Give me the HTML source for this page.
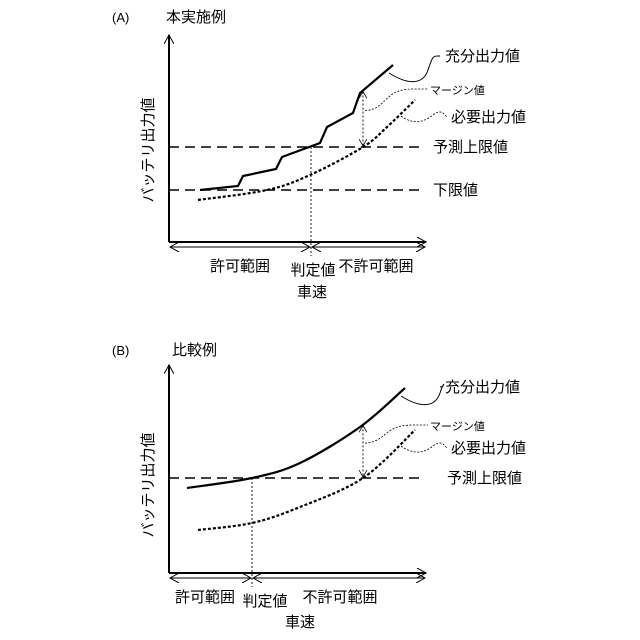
<!DOCTYPE html>
<html><head><meta charset="utf-8"><style>
html,body{margin:0;padding:0;background:#fff;width:640px;height:640px;overflow:hidden}
svg text{font-family:"Liberation Sans","Noto Sans CJK JP",sans-serif;fill:#000}
</style></head><body>
<svg id="fig" width="640" height="640" viewBox="0 0 640 640">
<defs>
<marker id="ah" markerWidth="10" markerHeight="10" refX="9" refY="5" orient="auto-start-reverse" markerUnits="userSpaceOnUse"><path d="M0,0 L9,5 L0,10" fill="none" stroke="#000" stroke-width="1"/></marker>
<marker id="ahs" markerWidth="8" markerHeight="8" refX="7" refY="4" orient="auto-start-reverse" markerUnits="userSpaceOnUse"><path d="M0,0 L7,4 L0,8" fill="none" stroke="#000" stroke-width="0.8"/></marker>
</defs>
<g id="pA"></g>
<g id="pB"></g>
</svg>
<script>
// Panel A data (speed units, output units)
const aFullSpeed=[31,69,74,107,113,151,158,184,191,224];
const aFullOut=[52,56,66,73,85,99,115,129,149,177];
const aReqSpeed=[29,98,141,194,218,246];
const aReqOut=[42,52,67,95,115,142];
const aUpperLimit=95;
const aLowerLimit=52;
const aJudgeSpeed=142;
const aMarginSpeed=194;
// Panel B data
const bFullSpeed=[18,83,131,191,236];
const bFullOut=[85,95,110,146,185];
const bReqSpeed=[29,83,131,194,246];
const bReqOut=[43,50,66,95,143];
const bUpperLimit=95;
const bJudgeSpeed=83;
const bMarginSpeed=194;

const NS="http://www.w3.org/2000/svg";
function mk(parent,tag,attrs,name,txt){
  const e=document.createElementNS(NS,tag);
  for(const k in attrs)e.setAttribute(k,attrs[k]);
  
  
  if(txt!==undefined)e.textContent=txt;
  parent.appendChild(e);return e;
}
function smooth(pts){
  let d=`M${pts[0][0]},${pts[0][1]}`;
  for(let i=0;i<pts.length-1;i++){
    const p0=pts[i-1]||pts[i],p1=pts[i],p2=pts[i+1],p3=pts[i+2]||p2;
    const c1=[p1[0]+(p2[0]-p0[0])/6,p1[1]+(p2[1]-p0[1])/6];
    const c2=[p2[0]-(p3[0]-p1[0])/6,p2[1]-(p3[1]-p1[1])/6];
    d+=` C${c1[0]},${c1[1]} ${c2[0]},${c2[1]} ${p2[0]},${p2[1]}`;
  }
  return d;
}
function interp(xs,ys,v){
  for(let i=0;i<xs.length-1;i++){if(v>=xs[i]&&v<=xs[i+1]){const t=(v-xs[i])/(xs[i+1]-xs[i]);return ys[i]+t*(ys[i+1]-ys[i]);}}
  return v<xs[0]?ys[0]:ys[ys.length-1];
}
function panel(g,o){
  const X=v=>o.x0+v, Y=p=>o.y0-p;
  const fs=15;
  mk(g,'text',{x:o.tagX,y:o.titleY,'font-size':13},'panel-tag',o.tag);
  mk(g,'text',{x:o.titleX,y:o.titleY,'font-size':15},'panel-title',o.title);
  mk(g,'line',{x1:o.x0,y1:o.y0,x2:o.x0,y2:o.yTop,stroke:'#000','stroke-width':2,'marker-end':'url(#ah)'},'y-axis');
  mk(g,'line',{x1:o.x0,y1:o.y0,x2:426,y2:o.y0,stroke:'#000','stroke-width':2,'marker-end':'url(#ah)'},'x-axis');
  mk(g,'text',{x:0,y:0,'font-size':15,transform:`translate(${o.ylX},${o.ylY}) rotate(-90)`,'text-anchor':'middle'},'y-axis-title','バッテリ出力値');
  mk(g,'line',{x1:o.x0,y1:Y(o.upper),x2:425,y2:Y(o.upper),stroke:'#000','stroke-width':1.6,'stroke-dasharray':'10,6'},'predicted-upper-limit-line');
  mk(g,'text',{x:o.upLblX,y:Y(o.upper)+5,'font-size':fs},'predicted-upper-limit-label','予測上限値');
  if(o.lower!==undefined){
    mk(g,'line',{x1:o.x0,y1:Y(o.lower),x2:425,y2:Y(o.lower),stroke:'#000','stroke-width':1.6,'stroke-dasharray':'10,6'},'lower-limit-line');
    mk(g,'text',{x:433,y:Y(o.lower)+5,'font-size':fs},'lower-limit-label','下限値');
  }
  const full=o.fs.map((v,i)=>[X(v),Y(o.fo[i])]);
  const fd=o.step?'M'+full.map(p=>p.join(',')).join(' L'):smooth(full);
  mk(g,'path',{d:fd,fill:'none',stroke:'#000','stroke-width':2.2},'sufficient-output-line');
  const req=o.rs.map((v,i)=>[X(v),Y(o.ro[i])]);
  mk(g,'path',{d:smooth(req),fill:'none',stroke:'#000','stroke-width':2.2,'stroke-dasharray':'3,2'},'required-output-line');
  mk(g,'line',{x1:X(o.judge),y1:Y(o.upper),x2:X(o.judge),y2:o.y0+14,stroke:'#000','stroke-width':0.9,'stroke-dasharray':'2,2'},'judgment-line');
  const mt=interp(o.fs,o.fo,o.margin), mb=interp(o.rs,o.ro,o.margin);
  mk(g,'line',{x1:X(o.margin),y1:Y(mt)+1,x2:X(o.margin),y2:Y(mb)-1,stroke:'#000','stroke-width':0.9,'stroke-dasharray':'2,2','marker-start':'url(#ahs)','marker-end':'url(#ahs)'},'margin-arrow');
  const ay=o.y0+5;
  mk(g,'line',{x1:o.x0+1,y1:ay,x2:X(o.judge)-1,y2:ay,stroke:'#000','stroke-width':1,'marker-start':'url(#ah)','marker-end':'url(#ah)'},'allowed-range-arrow');
  mk(g,'line',{x1:X(o.judge)+1,y1:ay,x2:425,y2:ay,stroke:'#000','stroke-width':1,'marker-start':'url(#ah)','marker-end':'url(#ah)'},'disallowed-range-arrow');
  mk(g,'text',{x:o.alX,y:o.y0+29,'font-size':fs,'text-anchor':'middle'},'allowed-range-label','許可範囲');
  mk(g,'text',{x:o.dlX,y:o.y0+29,'font-size':fs,'text-anchor':'middle'},'disallowed-range-label','不許可範囲');
  mk(g,'text',{x:X(o.judge)+o.jdx,y:o.y0+33,'font-size':fs,'text-anchor':'middle'},'judgment-value-label','判定値');
  mk(g,'text',{x:o.spX,y:o.y0+o.spDy,'font-size':fs,'text-anchor':'middle'},'x-axis-title','車速');
  const fe=full[full.length-1], re=req[req.length-1];
  const ly=o.fullLblY;
  mk(g,'text',{x:445,y:ly+5,'font-size':fs},'sufficient-output-label','充分出力値');
  mk(g,'path',{d:`M${fe[0]-4},${fe[1]+8} C${fe[0]+15},${fe[1]+20} ${fe[0]+30},${fe[1]+20} ${fe[0]+35},${fe[1]+5} S${fe[0]+40},${ly} 440,${ly}`,fill:'none',stroke:'#000','stroke-width':1},'sufficient-output-leader');
  mk(g,'text',{x:430,y:o.marLblY+5,'font-size':11},'margin-label','マージン値');
  const mm=(Y(mt)+Y(mb))/2-8;
  mk(g,'path',{d:`M${X(o.margin)+2},${mm} C${X(o.margin)+25},${mm-2} ${X(o.margin)+20},${o.marLblY} ${X(o.margin)+50},${o.marLblY} L428,${o.marLblY}`,fill:'none',stroke:'#000','stroke-width':0.8,'stroke-dasharray':'2,1.5'},'margin-leader');
  mk(g,'text',{x:451,y:o.reqLblY+5,'font-size':fs},'required-output-label','必要出力値');
  mk(g,'path',{d:`M${re[0]-14},${re[1]+16} C${re[0]},${re[1]+26} ${re[0]+10},${o.reqLblY+4} ${re[0]+18},${o.reqLblY-2} S${re[0]+28},${o.reqLblY-4} 447,${o.reqLblY}`,fill:'none',stroke:'#000','stroke-width':0.8,'stroke-dasharray':'2,1.5'},'required-output-leader');
}
panel(document.getElementById('pA'),{x0:169,y0:242,yTop:35,tag:'(A)',title:'本実施例',tagX:112,titleX:166,titleY:22,ylX:153,ylY:150,
  fs:aFullSpeed,fo:aFullOut,rs:aReqSpeed,ro:aReqOut,upper:aUpperLimit,lower:aLowerLimit,judge:aJudgeSpeed,margin:aMarginSpeed,step:true,
  upLblX:433,alX:240,dlX:376,jdx:2,spX:312,spDy:55,fullLblY:56,marLblY:89,reqLblY:117});
panel(document.getElementById('pB'),{x0:169,y0:573,yTop:365,tag:'(B)',title:'比較例',tagX:112,titleX:172,titleY:355,ylX:153,ylY:485,
  fs:bFullSpeed,fo:bFullOut,rs:bReqSpeed,ro:bReqOut,upper:bUpperLimit,judge:bJudgeSpeed,margin:bMarginSpeed,step:false,
  upLblX:447,alX:205,dlX:340,jdx:13,spX:300,spDy:54,fullLblY:387,marLblY:425,reqLblY:448});
</script>
</body></html>
